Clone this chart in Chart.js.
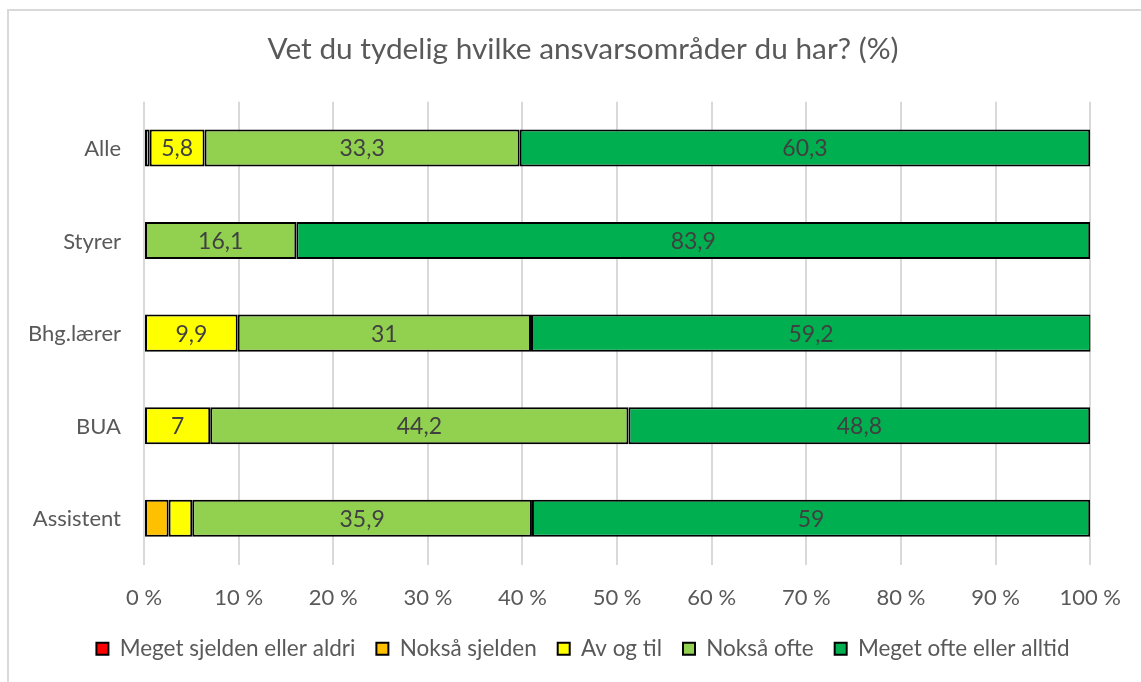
<!DOCTYPE html>
<html>
<head>
<meta charset="utf-8">
<script src="https://cdn.jsdelivr.net/npm/chart.js@4"></script>
<style>
  body { margin: 0; background: #fff; }
  #wrap { position: relative; width: 1141px; height: 682px; overflow: hidden; }
  #frame { position: absolute; left: 7px; top: 9px; width: 1200px; height: 700px; border: 2px solid #d9d9d9; box-sizing: border-box; }
  canvas { position: absolute; left: 0; top: 0; }
</style>
</head>
<body>
<div id="wrap">
  <div id="frame"></div>
  <canvas id="chart" width="1141" height="682"></canvas>
</div>
<script>
// DATA
const categories = ['Alle', 'Styrer', 'Bhg.lærer', 'BUA', 'Assistent'];
const seriesNames = ['Meget sjelden eller aldri', 'Nokså sjelden', 'Av og til', 'Nokså ofte', 'Meget ofte eller alltid'];
const meget_sjelden = [0, 0, 0, 0, 0];
const noksa_sjelden = [0.6, 0, 0, 0, 2.6];
const av_og_til = [5.8, 0, 9.9, 7, 2.5];
const noksa_ofte = [33.3, 16.1, 31, 44.2, 35.9];
const meget_ofte = [60.3, 83.9, 59.2, 48.8, 59];
const xTicks = [0, 10, 20, 30, 40, 50, 60, 70, 80, 90, 100];

const colors = ['#FF0000', '#FFC000', '#FFFF00', '#92D050', '#00B050'];
const FONT = 'Lato, "Open Sans", sans-serif';

function makeSet(i, values) {
	return {
		label: seriesNames[i],
		// zero shares are not drawn at all
		data: values.map(v => v || null),
		backgroundColor: colors[i],
		borderColor: '#000',
		borderWidth: 2,
		borderSkipped: false,
		categoryPercentage: 1,
		barPercentage: 0.4
	};
}

// LABELS INSIDE BARS + CATEGORY NAMES (the y axis would clip them)
const barLabels = {
	id: 'barLabels',
	afterDatasetsDraw(chart) {
		const c = chart.ctx;
		c.save();
		c.font = '23px ' + FONT;
		c.fillStyle = '#404040';
		c.textAlign = 'center';
		c.textBaseline = 'middle';
		chart.data.datasets.forEach((ds, di) => {
			chart.getDatasetMeta(di).data.forEach((bar, i) => {
				const v = ds.data[i];
				if (!v || v < 5) return;
				const p = bar.getProps(['x', 'y', 'base'], true);
				c.fillText(String(v).replace('.', ','), (p.x + p.base) / 2, p.y + 1);
			});
		});

		const yScale = chart.scales.y;
		c.font = '22px ' + FONT;
		c.fillStyle = '#595959';
		c.textAlign = 'right';
		categories.forEach((name, i) => {
			c.fillText(name, chart.chartArea.left - 23, yScale.getPixelForValue(i) + 1);
		});
		c.restore();
	}
};

const ctx = document.getElementById('chart').getContext('2d');
new Chart(ctx, {
	type: 'bar',
	data: {
		labels: categories,
		datasets: [
			makeSet(0, meget_sjelden),
			makeSet(1, noksa_sjelden),
			makeSet(2, av_og_til),
			makeSet(3, noksa_ofte),
			makeSet(4, meget_ofte)
		]
	},
	options: {
		indexAxis: 'y',
		responsive: false,
		animation: false,
		layout: { padding: { left: 63, right: 38, top: 0, bottom: 12 } },
		scales: {
			x: {
				stacked: true,
				min: 0,
				max: 100,
				afterBuildTicks: scale => { scale.ticks = xTicks.map(v => ({ value: v })); },
				afterFit: scale => { scale.height = 52; },
				grid: { color: '#d9d9d9', lineWidth: 2, drawTicks: false },
				border: { display: false },
				ticks: {
					padding: 20,
					color: '#595959',
					font: { family: FONT, size: 22 },
					callback: v => v + ' %'
				}
			},
			y: {
				stacked: true,
				afterFit: scale => { scale.width = 81; },
				grid: { display: false, drawTicks: false },
				border: { display: false },
				ticks: { display: false }
			}
		},
		plugins: {
			title: {
				display: true,
				text: 'Vet du tydelig hvilke ansvarsområder du har? (%)',
				color: '#595959',
				font: { family: FONT, size: 29.8, weight: 'normal' },
				padding: { top: 32, bottom: 34 }
			},
			legend: {
				position: 'bottom',
				labels: {
					color: '#595959',
					font: { family: FONT, size: 22.5 },
					boxWidth: 12,
					boxHeight: 12,
					padding: 21
				}
			},
			tooltip: { enabled: false }
		}
	},
	plugins: [barLabels]
});
</script>
</body>
</html>
